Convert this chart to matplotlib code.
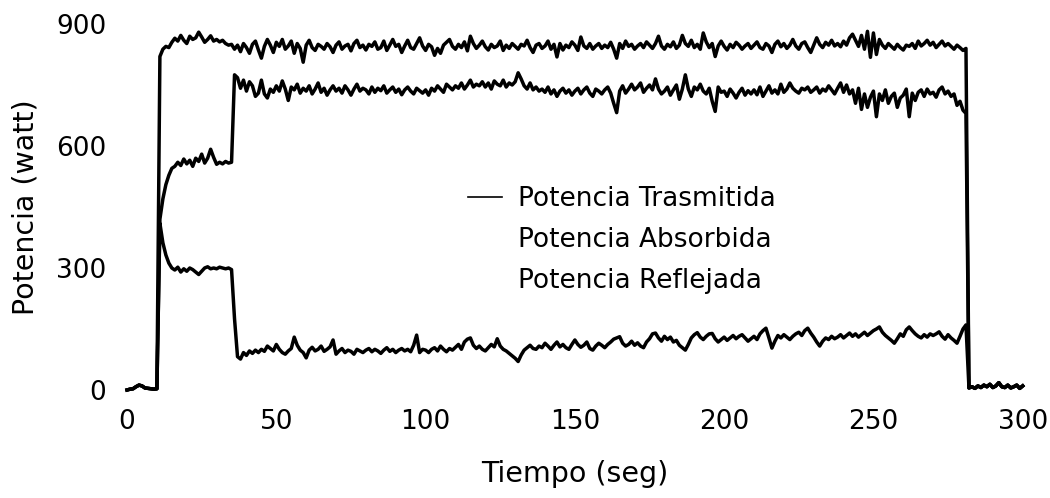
import numpy as np
import matplotlib
matplotlib.use('Agg')
import matplotlib.pyplot as plt
from pylab import rcParams

params = {'font.family': ['DejaVu Sans'],
          'font.size': 19,
          'axes.linewidth': 0,
          'xtick.labelsize': 19,
          'ytick.labelsize': 19,
          'xtick.major.size': 0,
          'ytick.major.size': 0,
          'axes.unicode_minus': False}
rcParams.update(params)

# sampling every second, 0..300 s
tiempo = np.arange(0, 301, 1)

base_ini = [0, 2, 3, 8, 12, 10, 5, 4, 3, 2, 3]
base_fin = [5, 8, 4, 10, 6, 12, 8, 14, 6, 10, 18, 8, 6, 12, 5, 8, 12, 4, 10]

trasmitida = base_ini + [
    820, 838, 845, 842, 855, 865, 858, 872, 860,
    852, 870, 862, 866, 880, 868, 855, 862, 871, 858,
    862, 856, 860, 852, 848, 850, 838, 848, 832, 852,
    842, 828, 850, 858, 836, 816, 845, 862, 848, 830,
    855, 845, 862, 838, 846, 858, 828, 852, 840, 806,
    848, 860, 842, 835, 850, 845, 838, 852, 844, 830,
    848, 856, 838, 846, 850, 834, 852, 860, 842, 848,
    836, 850, 845, 856, 838, 842, 858, 835, 848, 862,
    845, 850, 830, 846, 860, 842, 838, 852, 866, 846,
    835, 850, 844, 823, 840, 828, 848, 855, 862, 845,
    838, 850, 842, 856, 834, 870, 852, 840, 848, 858,
    844, 836, 850, 842, 846, 858, 835, 848, 840, 852,
    845, 838, 850, 846, 860, 842, 830, 848, 852, 840,
    846, 858, 838, 850, 819, 852, 836, 848, 842, 856,
    848, 835, 868, 846, 840, 852, 838, 846, 852, 840,
    848, 842, 855, 838, 816, 852, 840, 858, 845, 850,
    838, 846, 852, 842, 856, 848, 840, 852, 870, 846,
    838, 850, 844, 856, 840, 848, 872, 852, 845, 860,
    842, 850, 838, 878, 856, 842, 852, 820, 846, 858,
    845, 836, 850, 842, 855, 848, 838, 846, 852, 840,
    848, 856, 842, 838, 852, 846, 830, 850, 858, 844,
    852, 840, 848, 862, 846, 838, 852, 856, 842, 830,
    848, 866, 850, 842, 855, 848, 860, 846, 852, 844,
    858, 848, 866, 875, 860, 845, 872, 838, 882, 818,
    878, 825, 862, 848, 840, 852, 845, 838, 850, 842,
    836, 848, 845, 852, 840, 858, 846, 852, 860, 848,
    855, 842, 850, 858, 846, 852, 845, 838, 848, 842,
    835, 840] + base_fin

absorbida = base_ini + [
    420, 470, 505, 528, 545, 550, 560, 552, 568,
    556, 565, 550, 570, 562, 580, 558, 570, 592, 572,
    555, 560, 556, 562, 558, 560, 775, 768, 742, 762,
    735, 758, 748, 722, 730, 762, 728, 718, 740, 732,
    748, 735, 760, 740, 712, 745, 738, 752, 730, 742,
    735, 748, 728, 740, 755, 732, 742, 725, 738, 748,
    735, 742, 730, 748, 738, 725, 740, 752, 735, 742,
    738, 728, 745, 732, 742, 736, 748, 730, 738, 745,
    732, 740, 726, 738, 745, 735, 728, 742, 736, 730,
    738, 725, 742, 735, 748, 740, 732, 752, 745, 738,
    748, 742, 755, 740, 750, 762, 745, 752, 748, 758,
    745, 755, 740, 760, 752, 748, 762, 745, 755, 750,
    758, 780, 765, 748, 740, 755, 738, 745, 735, 740,
    732, 745, 728, 738, 722, 735, 742, 730, 738, 725,
    735, 742, 728, 738, 745, 730, 722, 740, 735, 728,
    738, 745, 730, 705, 682, 735, 748, 730, 740, 752,
    738, 745, 755, 732, 742, 750, 738, 765, 740, 728,
    735, 745, 725, 738, 750, 715, 740, 775, 740, 722,
    745, 738, 752, 735, 728, 742, 710, 685, 745, 732,
    735, 722, 740, 730, 718, 732, 742, 725, 736, 728,
    738, 726, 745, 722, 735, 748, 730, 738, 728, 752,
    732, 740, 755, 742, 735, 730, 742, 738, 745, 732,
    738, 745, 730, 740, 735, 748, 738, 728, 742, 755,
    732, 750, 728, 738, 705, 742, 690, 728, 695, 720,
    735, 672, 728, 712, 738, 705, 722, 730, 695, 718,
    725, 740, 672, 730, 712, 732, 738, 722, 740, 728,
    732, 720, 738, 745, 728, 735, 722, 728, 700, 710,
    688, 680] + base_fin

reflejada = base_ini + [
    410, 362, 332, 312, 300, 295, 302, 290, 298,
    292, 300, 296, 290, 284, 292, 300, 303, 298, 300,
    298, 302, 300, 298, 300, 296, 175, 82, 76, 92,
    85, 96, 90, 98, 92, 100, 95, 108, 102, 96,
    112, 100, 92, 88, 96, 102, 130, 110, 98, 92,
    79, 98, 105, 96, 100, 108, 95, 100, 106, 123,
    88, 96, 102, 92, 98, 95, 88, 100, 96, 92,
    98, 102, 94, 100, 96, 90, 98, 104, 95, 100,
    92, 98, 102, 96, 100, 94, 110, 135, 92, 100,
    98, 92, 100, 104, 96, 108, 100, 94, 102, 98,
    105, 112, 100, 118, 125, 128, 110, 102, 108, 100,
    96, 104, 112, 106, 126, 108, 100, 96, 90, 84,
    78, 70, 86, 98, 104, 110, 102, 100, 108, 104,
    115, 108, 100, 110, 118, 106, 112, 104, 100, 112,
    123, 112, 105, 110, 118, 102, 98, 108, 115, 110,
    104, 112, 118, 125, 128, 131, 115, 108, 112, 120,
    110, 116, 108, 104, 118, 126, 138, 140, 128, 120,
    132, 124, 130, 118, 122, 110, 104, 98, 112, 128,
    136, 141, 130, 124, 132, 138, 139, 126, 118, 124,
    130, 122, 128, 134, 126, 132, 136, 128, 120, 126,
    132, 124, 138, 146, 152, 128, 103, 120, 134, 128,
    136, 130, 124, 132, 138, 142, 134, 146, 152, 140,
    130, 118, 108, 120, 128, 124, 132, 126, 130, 136,
    128, 134, 140, 132, 138, 130, 136, 142, 134, 140,
    146, 150, 155, 142, 134, 128, 122, 115, 126, 138,
    132, 148, 155, 146, 138, 132, 128, 136, 130, 138,
    134, 138, 143, 132, 125, 136, 128, 122, 115, 132,
    150, 160] + base_fin

etiquetas = ['Potencia Trasmitida', 'Potencia Absorbida', 'Potencia Reflejada']
xticks = [0, 50, 100, 150, 200, 250, 300]
yticks = [0, 300, 600, 900]

fig = plt.figure(figsize=(10.5, 4.98), dpi=100)
ax = fig.add_axes([0.121, 0.2169, 0.853, 0.7349])

series = [trasmitida, absorbida, reflejada]
lines = []
for vals, lab in zip(series, etiquetas):
    ln, = ax.plot(tiempo, vals, color='black', lw=2.5, label=lab,
                  clip_on=False, solid_joinstyle='round')
    lines.append(ln)

ax.set_xlim(0, 300)
ax.set_ylim(0, 900)
ax.set_xticks(xticks)
ax.set_yticks(yticks)
ax.tick_params(axis='x', pad=14)
ax.tick_params(axis='y', pad=15)
for sp in ax.spines.values():
    sp.set_visible(False)

ax.set_xlabel('Tiempo (seg)', fontsize=20.5, labelpad=18)
ax.set_ylabel('Potencia (watt)', fontsize=20.5, labelpad=12)

leg = ax.legend(handles=lines, loc='upper left',
                bbox_to_anchor=(468 / 1050, 1 - 186 / 498),
                bbox_transform=fig.transFigure, frameon=False,
                fontsize=19, handlelength=1.29, handletextpad=0.6,
                labelspacing=0.56, borderpad=0, borderaxespad=0)
for hl in leg.get_lines()[1:]:
    hl.set_visible(False)
leg.get_lines()[0].set_linewidth(1.2)

plt.savefig('out.png', dpi=100)
plt.close(fig)
